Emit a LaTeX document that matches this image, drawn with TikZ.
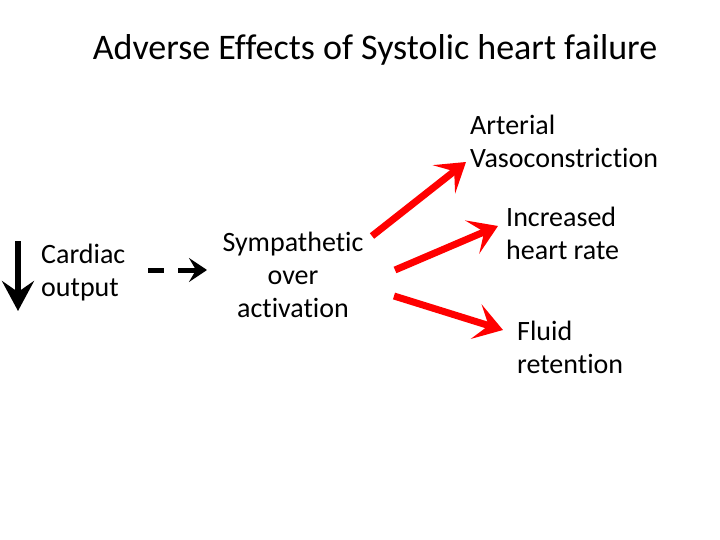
\documentclass[tikz,border=0pt]{standalone}
\usepackage{fontspec}
\setmainfont[Ligatures=NoCommon]{Carlito}
\usepackage{tikz}
\usetikzlibrary{arrows.meta}

\tikzset{
  txt/.style={inner sep=0pt, font=\fontsize{28}{33}\selectfont},
  redarrow/.style={draw=red, line width=7pt, -{Stealth[length=28pt, width=36pt, inset=13pt]}},
  blackarrow/.style={draw=black, line width=5pt, -{Stealth[length=18pt, width=24pt, inset=7pt]}}
}

\begin{document}
\begin{tikzpicture}[x=1pt, y=-1pt]
      \useasboundingbox[fill=white] (0, 0) rectangle (720, 540);
      \node[font=\fontsize{36}{40}\selectfont] (title) at (375, 50) {Adverse Effects of Systolic heart failure};
      % left side
      \node[txt, anchor=west, align=left] (cardiac) at (41, 273) {Cardiac\\output};
      \coordinate (downtop) at (18, 241);
      \coordinate (downend) at (18, 311);
      \draw[blackarrow, line width=6pt, -{Stealth[length=30pt, width=32pt, inset=11pt]}] (downtop) -- (downend);
      \coordinate (dashA) at (148, 270);
      \coordinate (dashB) at (164, 270);
      \draw[line width=5pt] (dashA) -- (dashB);
      \coordinate (arrA) at (178, 270);
      \coordinate (arrB) at (207, 270);
      \draw[blackarrow] (arrA) -- (arrB);
      \node[txt, align=center] (symp) at (293, 275) {Sympathetic\\over\\activation};
      % right side
      \node[txt, anchor=west, align=left] (arterial) at (470, 141) {Arterial\\Vasoconstriction};
      \node[txt, anchor=west, align=left] (rate) at (506, 233) {Increased\\heart rate};
      \node[txt, anchor=west, align=left] (fluid) at (517, 347) {Fluid\\retention};
      \coordinate (s1) at (372, 236);
      \coordinate (e1) at (466, 162);
      \coordinate (s2) at (395, 270);
      \coordinate (e2) at (498, 226);
      \coordinate (s3) at (394, 296);
      \coordinate (e3) at (503, 330);
      \draw[redarrow] (s1) -- (e1);
      \draw[redarrow] (s2) -- (e2);
      \draw[redarrow] (s3) -- (e3);
    \end{tikzpicture}
\end{document}
